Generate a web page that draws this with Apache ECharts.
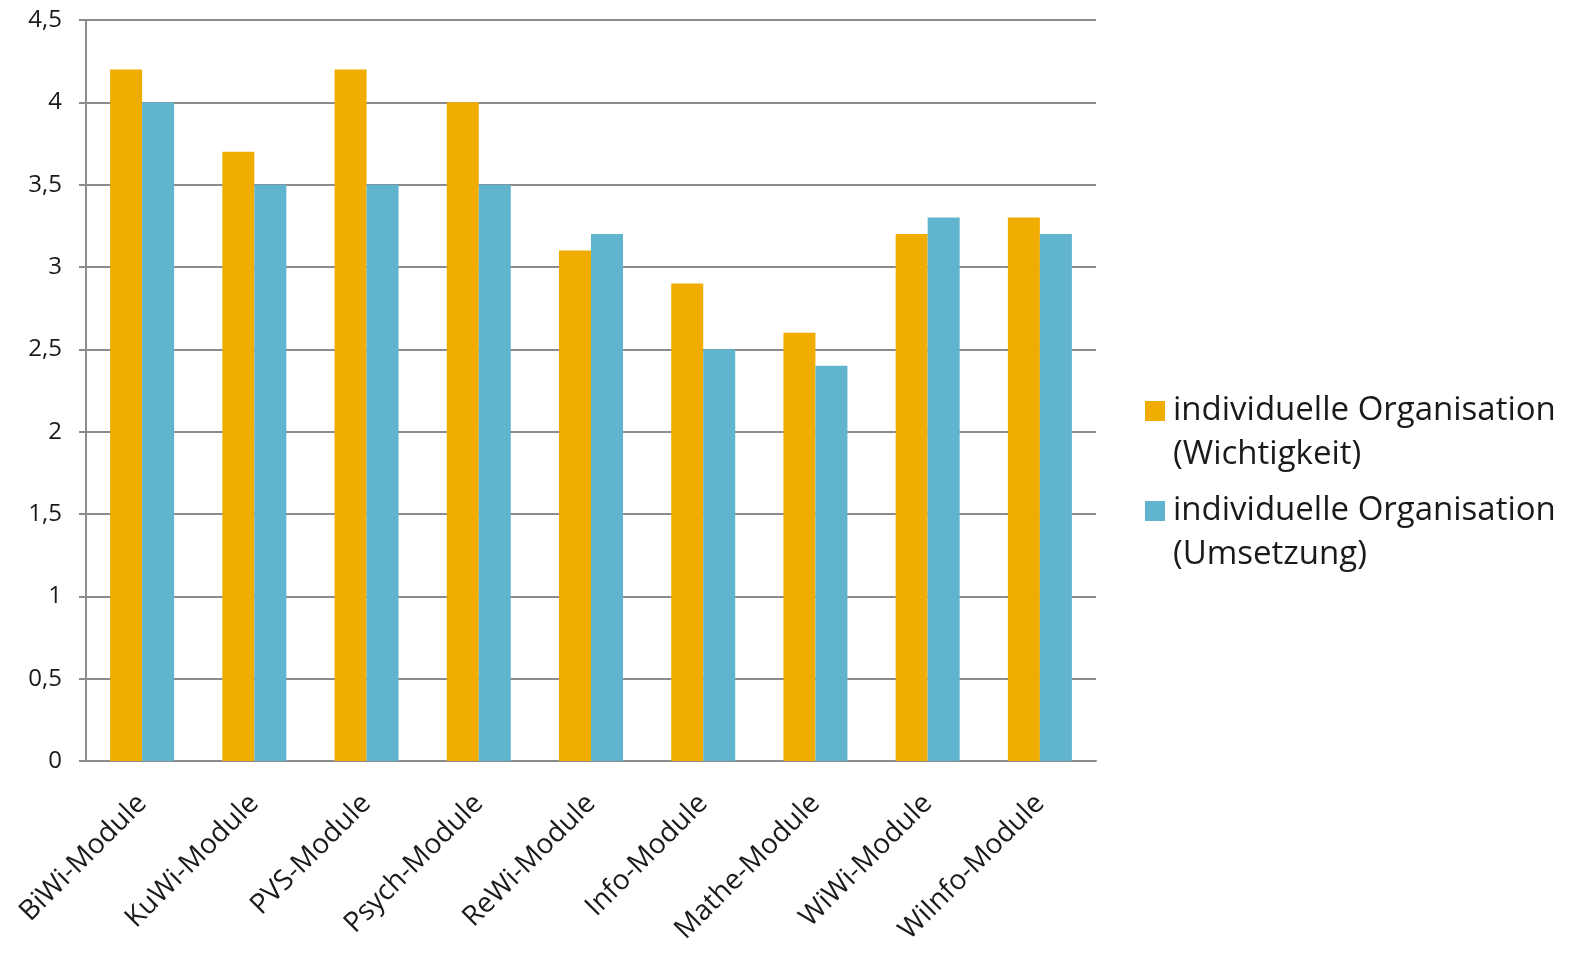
<!DOCTYPE html>
<html><head><meta charset="utf-8">
<script src="https://cdn.jsdelivr.net/npm/echarts@6/dist/echarts.min.js"></script>
<style>html,body{margin:0;padding:0;background:#fff}#c{width:1591px;height:957px}</style>
</head><body><div id="c"></div>
<script>
const categories = ['BiWi-Module','KuWi-Module','PVS-Module','Psych-Module','ReWi-Module','Info-Module','Mathe-Module','WiWi-Module','WiInfo-Module'];
const wichtigkeit = [4.2,3.7,4.2,4.0,3.1,2.9,2.6,3.2,3.3];
const umsetzung = [4.0,3.5,3.5,3.5,3.2,2.5,2.4,3.3,3.2];
const seriesNames = ['individuelle Organisation\n(Wichtigkeit)','individuelle Organisation\n(Umsetzung)'];
const font = 'Open Sans';
const chart = echarts.init(document.getElementById('c'));
chart.setOption({
  animation:false,
  textStyle:{fontFamily:font},
  grid:{left:86,right:495,top:20,bottom:196,containLabel:false},
  legend:{orient:'vertical',left:1140,top:384,itemWidth:20,itemHeight:64,itemGap:12,
    icon:'path://M0,0H20V20H0Z M0,64H20',
    textStyle:{fontFamily:font,fontSize:33,color:'#1a1a1a',lineHeight:44,padding:[0,0,0,3]},
    data:seriesNames},
  xAxis:{type:'category',data:categories,
    axisLine:{lineStyle:{color:'#8c8c8c',width:2}},
    axisTick:{length:8,lineStyle:{color:'#8c8c8c',width:2}},
    axisLabel:{rotate:45,fontSize:28,color:'#1a1a1a',margin:38,interval:0,fontFamily:font}},
  yAxis:{type:'value',min:0,max:4.5,interval:0.5,
    axisLine:{show:true,lineStyle:{color:'#8c8c8c',width:2}},
    axisTick:{show:true,length:7,lineStyle:{color:'#8c8c8c',width:2}},
    splitLine:{lineStyle:{color:'#8c8c8c',width:2}},
    axisLabel:{fontSize:24,color:'#1a1a1a',margin:24,fontFamily:font,
      formatter:v=>String(v).replace('.',',')}},
  series:[
    {name:seriesNames[0],type:'bar',data:wichtigkeit,barWidth:32,barGap:'0%',itemStyle:{color:'#F0AD00'}},
    {name:seriesNames[1],type:'bar',data:umsetzung,barWidth:32,barGap:'0%',itemStyle:{color:'#61B4CD'}}
  ]
});
</script></body></html>
